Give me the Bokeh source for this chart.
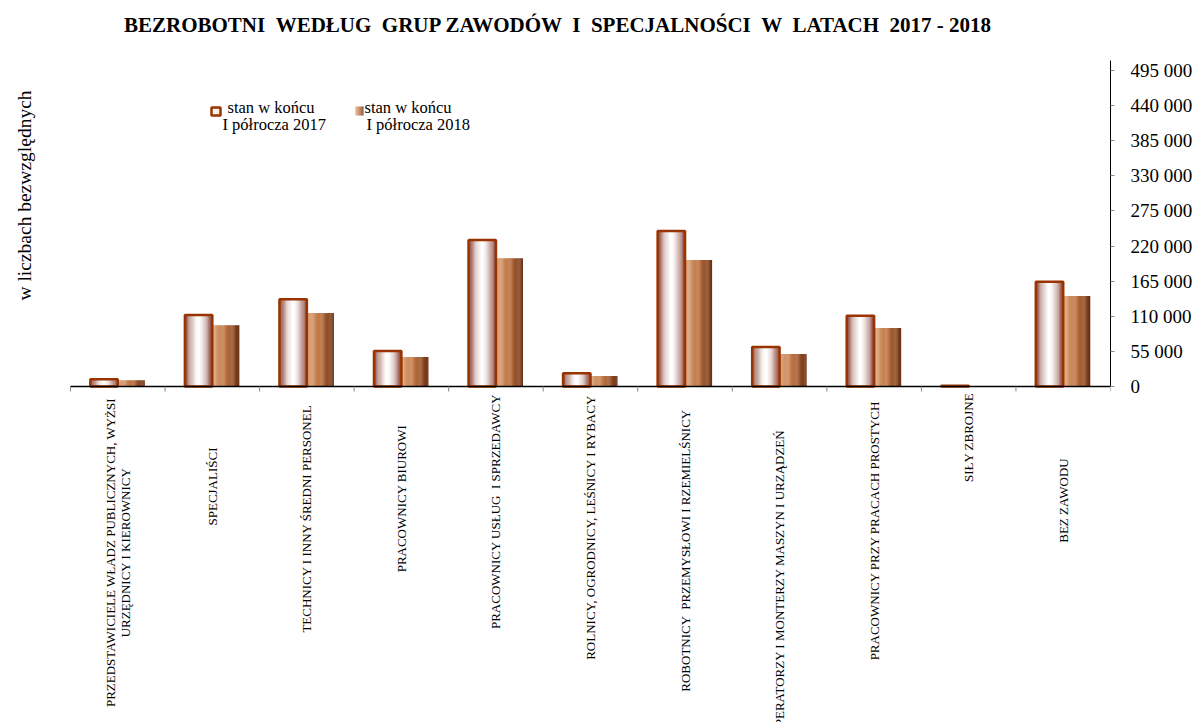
from bokeh.plotting import figure
from bokeh.models import (Range1d, FixedTicker, ColumnDataSource, Label, LabelSet, BoxAnnotation)
from bokeh.transform import dodge
from bokeh.core.properties import value
from bokeh.embed import file_html
from bokeh.resources import INLINE

# ---------------- data ----------------
category_labels = [
    "PRZEDSTAWICIELE WŁADZ PUBLICZNYCH, WYŻSI\nURZĘDNICY I KIEROWNICY",
    "SPECJALIŚCI",
    "TECHNICY I INNY ŚREDNI PERSONEL",
    "PRACOWNICY BIUROWI",
    "PRACOWNICY USŁUG  I SPRZEDAWCY",
    "ROLNICY, OGRODNICY, LEŚNICY I RYBACY",
    "ROBOTNICY  PRZEMYSŁOWI I RZEMIELŚNICY",
    "OPERATORZY I MONTERZY MASZYN I URZĄDZEŃ",
    "PRACOWNICY PRZY PRACACH PROSTYCH",
    "SIŁY ZBROJNE",
    "BEZ ZAWODU",
]
values_2017 = [11300, 112000, 136600, 55600, 229500, 20700, 243600, 61900, 110900, 1000, 164200]
values_2018 = [9700, 95900, 115000, 46200, 200800, 16400, 198200, 50900, 91600, 300, 141800]
series_2017 = ["stan w końcu", "I półrocza 2017"]
series_2018 = ["stan w końcu", "I półrocza 2018"]
y_ticks = [0, 55000, 110000, 165000, 220000, 275000, 330000, 385000, 440000, 495000]
y_tick_labels = ["0", "55 000", "110 000", "165 000", "220 000", "275 000",
                 "330 000", "385 000", "440 000", "495 000"]
title_text = "BEZROBOTNI  WEDŁUG  GRUP ZAWODÓW  I  SPECJALNOŚCI  W  LATACH  2017 - 2018"
y_title = "w liczbach bezwzględnych"

# ---------------- layout (page pixels) ----------------
W, H = 1195, 722
PLOT_LEFT, PLOT_RIGHT = 70, 1110      # x extent of the category axis
ZERO_Y, TOP_TICK_Y = 386, 70          # pixel rows of 0 and of the top tick
label_centre_y = [552, 486, 518, 498, 511, 527, 550, 582, 530, 437, 500]
LINE_STEP = 15                        # px between lines of a wrapped category label

FONT = "Liberation Serif"
n = len(category_labels)
top_val = y_ticks[-1]
ppx = (PLOT_RIGHT - PLOT_LEFT) / n
ppy = (ZERO_Y - TOP_TICK_Y) / top_val


def keep_spaces(s):
    return s.replace("  ", " \u00a0")


src = ColumnDataSource(dict(i=list(range(n)), v17=values_2017, v18=values_2018))

# one row per label line (wrapped labels are split, lines centred side by side)
lx, ly, lt = [], [], []
for i, (lab, cy) in enumerate(zip(category_labels, label_centre_y)):
    lines = lab.split("\n")
    m = len(lines)
    for j, line in enumerate(lines):
        lx.append(i + 0.5 + (j - (m - 1) / 2) * LINE_STEP / ppx)
        ly.append(H - cy)
        lt.append(keep_spaces(line))
lab_src = ColumnDataSource(dict(x=lx, y=ly, t=lt))

p = figure(width=W, height=H,
           x_range=Range1d(-PLOT_LEFT / ppx, n),
           y_range=Range1d(-(H - ZERO_Y) / ppy, top_val + TOP_TICK_Y / ppy),
           output_backend="svg", toolbar_location=None,
           x_axis_location=None, y_axis_location="right",
           min_border_left=0, min_border_right=W - PLOT_RIGHT, min_border_top=0,
           min_border_bottom=0)
p.outline_line_color = None
p.grid.visible = False
p.background_fill_color = "white"
p.border_fill_color = "white"

# gradients
def mix(c1, c2, t):
    return tuple(int(round(a + (b - a) * t)) for a, b in zip(c1, c2))

def hexc(c):
    return "#%02x%02x%02x" % c

N = 24
w17 = 0.29
w18 = 0.285
edge = (128, 52, 38)
white = (255, 255, 255)
for k in range(N):
    t = (k + 0.5) / N
    d = abs(t - 0.5) * 2
    c = mix(white, edge, d ** 1.6)
    off = 0.5 - w17 + t * w17
    p.vbar(x=dodge("i", off), top="v17", width=w17 / N * 1.2,
           source=src, fill_color=hexc(c), line_color=None)
c_left, c_mid, c_right = (222, 170, 128), (188, 112, 62), (105, 46, 16)

def grad18(t):
    return mix(c_left, c_mid, t / 0.5) if t < 0.5 else mix(c_mid, c_right, (t - 0.5) / 0.5)

for k in range(N):
    t = (k + 0.5) / N
    off = 0.5 + t * w18
    p.vbar(x=dodge("i", off), top="v18", width=w18 / N * 1.2,
           source=src, fill_color=hexc(grad18(t)), line_color=None)
p.vbar(x=dodge("i", 0.5 - w17 / 2), top="v17", width=w17, source=src,
       fill_color=None, line_color="#993300", line_width=2.5)

# category axis: baseline and ticks at category boundaries
x_bounds = list(range(n + 1))
p.segment(x0=[0], x1=[n], y0=[0], y1=[0], line_color="black", line_width=1.5)
p.segment(x0=x_bounds, x1=x_bounds, y0=[0] * (n + 1), y1=[-5 / ppy] * (n + 1),
          line_color="#888888", line_width=1)

# value axis
ya = p.yaxis[0]
ya.bounds = (0, top_val + 10 / ppy)
ya.ticker = FixedTicker(ticks=y_ticks)
ya.major_label_overrides = {t: s for t, s in zip(y_ticks, y_tick_labels)}
ya.major_label_text_font = FONT
ya.major_label_text_font_size = "19px"
ya.major_label_text_color = "black"
ya.major_tick_out = 4
ya.major_tick_in = 0
ya.major_tick_line_color = "#888888"
ya.minor_tick_line_color = None
ya.axis_line_color = "black"
ya.major_label_standoff = 16

# category labels
p.add_layout(LabelSet(x="x", y="y", y_units="screen", text="t", source=lab_src,
                      angle=1.5707963, text_align="center", text_baseline="middle",
                      text_font=value(FONT), text_font_size="13px", text_color="black"))

# title & y title
p.add_layout(Label(x=558, y=H - 24.5, x_units="screen", y_units="screen",
                   text=keep_spaces(title_text),
                   text_font=FONT, text_font_style="bold", text_font_size="21px",
                   text_align="center", text_baseline="middle", text_color="black"))
p.add_layout(Label(x=24, y=H - 195, x_units="screen", y_units="screen", text=y_title,
                   angle=1.5707963, text_font=FONT, text_font_size="19.5px",
                   text_align="center", text_baseline="middle", text_color="black"))

# legend
p.add_layout(BoxAnnotation(left=211, right=220, top=H - 107, bottom=H - 115,
                           left_units="screen", right_units="screen", top_units="screen",
                           bottom_units="screen", fill_color="#fbf1ec", fill_alpha=1,
                           line_color="#993300", line_alpha=1, line_width=2.5))
for k in range(8):
    t = (k + 0.5) / 8
    p.add_layout(BoxAnnotation(left=355 + k, right=356 + k, top=H - 106, bottom=H - 115,
                               left_units="screen", right_units="screen", top_units="screen",
                               bottom_units="screen", fill_color=hexc(grad18(t)), fill_alpha=1,
                               line_color=None))
for (x1, x2, lines) in [(227, 222, series_2017), (364, 366, series_2018)]:
    p.add_layout(Label(x=x1, y=H - 116, x_units="screen", y_units="screen", text=lines[0],
                       text_font=FONT, text_font_size="16.5px", text_color="black"))
    p.add_layout(Label(x=x2, y=H - 133, x_units="screen", y_units="screen", text=lines[1],
                       text_font=FONT, text_font_size="16.5px", text_color="black"))

open("out.html", "w").write(file_html(p, INLINE))
